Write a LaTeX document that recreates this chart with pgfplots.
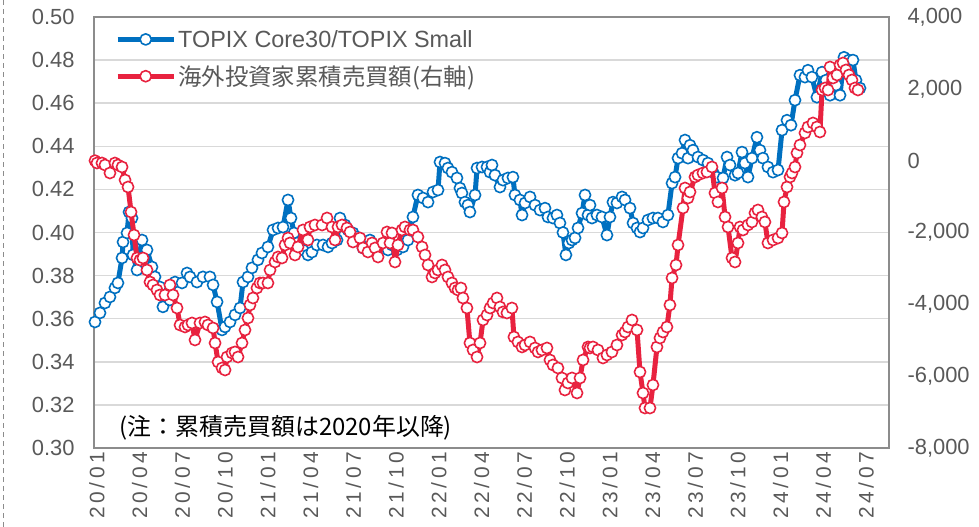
\documentclass[border=0pt]{standalone}
\usepackage{pgfplots}
\pgfplotsset{compat=1.18}
\usepackage{pgfplotstable}
\usepackage{fontspec}
\setmainfont{Liberation Sans}
\newfontfamily\cjk{Noto Sans CJK JP}
\newfontfamily\xfont[LetterSpace=18]{Liberation Sans}
\definecolor{cblue}{HTML}{0070C0}
\definecolor{cred}{HTML}{E8223F}
\definecolor{tgray}{HTML}{595959}
\definecolor{ggray}{HTML}{D9D9D9}
\definecolor{agray}{HTML}{8C8C8C}

\pgfplotstableread{
m v
-0.14 0.3585
0.21 0.3627
0.56 0.3673
0.91 0.3701
1.26 0.3743
1.47 0.3766
1.76 0.3882
1.83 0.3956
2.11 0.3998
2.25 0.4095
2.46 0.4067
2.53 0.3896
2.81 0.3826
3.16 0.3965
3.51 0.3919
3.86 0.3840
4.07 0.3794
4.42 0.3747
4.63 0.3655
5.12 0.3687
5.48 0.3770
5.97 0.3766
6.32 0.3812
6.53 0.3794
7.02 0.3770
7.44 0.3794
7.93 0.3794
8.15 0.3757
8.43 0.3678
8.78 0.3548
8.99 0.3562
9.34 0.3585
9.69 0.3618
10.04 0.3650
10.25 0.3770
10.60 0.3794
10.88 0.3836
11.30 0.3873
11.58 0.3905
12.00 0.3933
12.36 0.4012
12.71 0.4021
13.06 0.4025
13.41 0.4151
13.62 0.4067
13.83 0.3998
14.04 0.3951
14.46 0.3919
14.81 0.3896
15.09 0.3909
15.44 0.3942
15.87 0.3942
16.22 0.3933
16.50 0.3951
16.85 0.3965
17.06 0.4067
17.41 0.4035
17.62 0.4012
17.97 0.3998
18.25 0.3979
18.67 0.3928
19.16 0.3965
19.66 0.3933
20.08 0.3942
20.43 0.3919
20.71 0.3942
21.06 0.3919
21.48 0.3933
21.83 0.3965
22.18 0.4072
22.53 0.4174
22.89 0.4160
23.24 0.4141
23.59 0.4188
23.94 0.4197
24.08 0.4327
24.43 0.4322
24.64 0.4299
24.92 0.4280
25.27 0.4253
25.48 0.4206
25.62 0.4183
25.83 0.4141
26.04 0.4127
26.18 0.4095
26.54 0.4174
26.68 0.4299
27.03 0.4304
27.38 0.4304
27.59 0.4280
27.73 0.4313
27.94 0.4266
28.29 0.4211
28.50 0.4243
28.85 0.4253
29.20 0.4257
29.34 0.4174
29.69 0.4151
29.84 0.4081
30.05 0.4137
30.40 0.4165
30.75 0.4127
31.10 0.4104
31.45 0.4113
31.66 0.4072
32.01 0.4067
32.29 0.4081
32.50 0.4044
32.71 0.4000
32.92 0.3896
33.13 0.3951
33.35 0.3965
33.56 0.3975
33.77 0.4021
34.05 0.4090
34.26 0.4174
34.47 0.4081
34.61 0.4127
34.75 0.4067
35.10 0.4081
35.45 0.4072
35.80 0.3988
36.01 0.4072
36.22 0.4141
36.50 0.4137
36.86 0.4165
37.07 0.4151
37.42 0.4113
37.63 0.4044
37.91 0.4021
38.12 0.4002
38.33 0.4021
38.68 0.4058
39.03 0.4067
39.38 0.4067
39.73 0.4049
40.08 0.4081
40.37 0.4229
40.58 0.4257
40.79 0.4345
41.07 0.4368
41.28 0.4429
41.49 0.4345
41.63 0.4405
41.84 0.4382
42.19 0.4350
42.54 0.4336
42.89 0.4322
43.24 0.4280
43.52 0.4257
43.95 0.4253
44.23 0.4350
44.44 0.4313
44.79 0.4266
45.00 0.4276
45.28 0.4373
45.49 0.4322
45.70 0.4257
45.98 0.4345
46.33 0.4442
46.54 0.4382
46.75 0.4345
47.10 0.4304
47.46 0.4280
47.81 0.4290
48.09 0.4475
48.44 0.4521
48.72 0.4498
49.00 0.4614
49.35 0.4730
49.70 0.4721
49.91 0.4753
50.19 0.4721
50.54 0.4628
50.90 0.4744
51.18 0.4707
51.46 0.4637
51.88 0.4684
52.16 0.4637
52.44 0.4813
52.79 0.4800
53.07 0.4800
53.28 0.4707
53.56 0.4670
}\topix

\pgfplotstableread{
m v
-0.14 0
0.00 -65
0.35 -65
0.56 -120
0.91 -343
1.26 -65
1.47 -120
1.76 -176
1.97 -538
2.18 -733
2.39 -1430
2.60 -2070
2.81 -2709
3.02 -2765
3.23 -2709
3.51 -3044
3.72 -3378
3.93 -3461
4.21 -3600
4.42 -3740
4.77 -3740
5.12 -3461
5.34 -3740
5.62 -4102
5.83 -4575
6.18 -4630
6.39 -4575
6.67 -4519
6.88 -4992
7.23 -4519
7.58 -4491
7.79 -4575
8.15 -4658
8.29 -5076
8.50 -5605
8.78 -5772
8.99 -5828
9.13 -5466
9.48 -5354
9.69 -5326
9.90 -5466
10.18 -5076
10.39 -4714
10.60 -4380
10.74 -4018
10.95 -3823
11.23 -3545
11.44 -3405
11.65 -3405
12.00 -3405
12.15 -3044
12.50 -2821
12.71 -2682
12.99 -2709
13.20 -2348
13.41 -2153
13.55 -2292
13.90 -2626
14.11 -2403
14.46 -1930
14.81 -2208
14.95 -1846
15.30 -1791
15.80 -1791
16.15 -1596
16.50 -1846
16.71 -2208
16.92 -1846
17.20 -1791
17.55 -1874
17.76 -1986
17.97 -2264
18.46 -2153
18.67 -2431
19.02 -2542
19.31 -2292
19.52 -2431
19.73 -2682
20.08 -2292
20.36 -1986
20.57 -2292
20.71 -2013
20.92 -2821
21.13 -2348
21.41 -1930
21.62 -1846
21.97 -1930
22.18 -1930
22.53 -2125
22.82 -2403
23.03 -2626
23.24 -2904
23.52 -3238
23.73 -3127
23.94 -3044
24.22 -2904
24.43 -3044
24.64 -3238
24.92 -3405
25.13 -3545
25.34 -3600
25.55 -3545
25.69 -3823
25.97 -4102
26.18 -5076
26.40 -5271
26.68 -5466
26.89 -5076
27.10 -4436
27.38 -4297
27.59 -4102
27.80 -3962
28.08 -3823
28.29 -4074
28.50 -4213
28.78 -4241
29.13 -4102
29.27 -4909
29.55 -5048
29.84 -5187
30.05 -5132
30.40 -5048
30.75 -5215
30.96 -5326
31.24 -5271
31.59 -5215
31.80 -5549
32.01 -5688
32.36 -5772
32.64 -6050
32.85 -6385
33.06 -6189
33.35 -6050
33.70 -6468
33.91 -6050
34.12 -5549
34.47 -5187
34.61 -5215
34.82 -5187
35.17 -5271
35.52 -5493
35.80 -5410
36.15 -5326
36.50 -5132
36.86 -4853
37.07 -4770
37.28 -4630
37.56 -4436
37.91 -4714
38.12 -5883
38.33 -6468
38.47 -6886
38.82 -6886
39.03 -6245
39.31 -5187
39.52 -4937
39.73 -4770
40.01 -4630
40.22 -4018
40.37 -3266
40.65 -2904
40.79 -2348
41.14 -1317
41.28 -761
41.49 -1039
41.63 -872
41.98 -454
42.19 -399
42.54 -343
42.82 -315
43.17 -176
43.38 -900
43.59 -1150
43.88 -761
44.09 -1568
44.30 -1846
44.58 -2709
44.79 -2821
45.00 -2292
45.14 -1846
45.35 -1930
45.70 -1791
45.98 -1707
46.19 -1456
46.40 -1373
46.68 -1568
46.89 -1707
47.10 -2292
47.46 -2208
47.81 -2153
48.09 -2013
48.23 -1150
48.44 -733
48.65 -454
48.79 -343
49.00 -176
49.14 214
49.35 436
49.70 771
49.91 938
50.26 1049
50.54 938
50.75 798
50.90 1968
51.11 2023
51.32 1968
51.46 2608
51.67 2302
51.95 2385
52.16 2664
52.37 2719
52.58 2525
52.79 2385
53.00 2246
53.21 2023
53.42 1968
}\investor

\pgfplotsset{
  bluestyle/.style={cblue, line width=5bp, line join=round, mark=*, mark size=5.6bp, mark options={fill=white, line width=1.6bp}},
  redstyle/.style={cred, line width=5bp, line join=round, mark=*, mark size=5.6bp, mark options={fill=white, line width=1.6bp}},
  common/.style={
    scale only axis, width=795bp, height=431bp,
    xmin=-0.21, xmax=55.6,
    major tick length=0pt,
    clip=false,
    tick label style={font=\fontsize{22}{26}\selectfont, text=tgray},
    /pgf/number format/assume math mode=true,
  },
}

\begin{document}
\begin{tikzpicture}
\path[use as bounding box] (-94bp,-79bp) rectangle (885bp,448bp);
\draw[agray, line width=0.8bp, dash pattern=on 5bp off 4bp] (-91bp,-79bp) -- (-91bp,448bp);
\begin{axis}[common,
  ymin=0.30, ymax=0.50,
  xtick={0,3,6,9,12,15,18,21,24,27,30,33,36,39,42,45,48,51,54},
  xticklabels={20/01,20/04,20/07,20/10,21/01,21/04,21/07,21/10,22/01,22/04,22/07,22/10,23/01,23/04,23/07,23/10,24/01,24/04,24/07},
  xticklabel style={rotate=90, anchor=east, font=\xfont\fontsize{21}{24}\selectfont, text=tgray},
  ytick={0.30,0.32,0.34,0.36,0.38,0.40,0.42,0.44,0.46,0.48,0.50},
  yticklabels={0.30,0.32,0.34,0.36,0.38,0.40,0.42,0.44,0.46,0.48,0.50},
  yticklabel style={xshift=-16bp},
  ymajorgrids, grid style={ggray, line width=1.5bp},
  axis line style={agray, line width=1.5bp},
]
\addplot[bluestyle] table[x=m, y=v] {\topix};
\end{axis}
\begin{axis}[common,
  ymin=-8000, ymax=4000,
  axis x line=none, axis y line*=right,
  y axis line style={draw=none},
  ytick={-8000,-6000,-4000,-2000,0,2000,4000},
  yticklabels={{-8,000},{-6,000},{-4,000},{-2,000},0,{2,000},{4,000}},
  yticklabel style={anchor=west, xshift=15bp},
  legend style={at={(axis description cs:0,1)}, anchor=north west, draw=none, fill=none,
    font=\fontsize{23.5}{27}\selectfont, text=tgray, xshift=18bp, yshift=-9bp, row sep=13bp},
  legend cell align=left,
  legend image code/.code={\draw[mark repeat=2, mark phase=2, #1] plot coordinates {(0bp,0bp) (28bp,0bp) (56bp,0bp)};},
]
\addlegendimage{bluestyle}
\addlegendentry{TOPIX Core30/TOPIX Small}
\addplot[redstyle] table[x=m, y=v] {\investor};
\addlegendentry{\cjk 海外投資家累積売買額(右軸)}
\node[anchor=west, font=\cjk\fontsize{24}{28}\selectfont, text=black] at (axis description cs:0.028,0.046) {(注：累積売買額は2020年以降)};
\end{axis}
\end{tikzpicture}
\end{document}
